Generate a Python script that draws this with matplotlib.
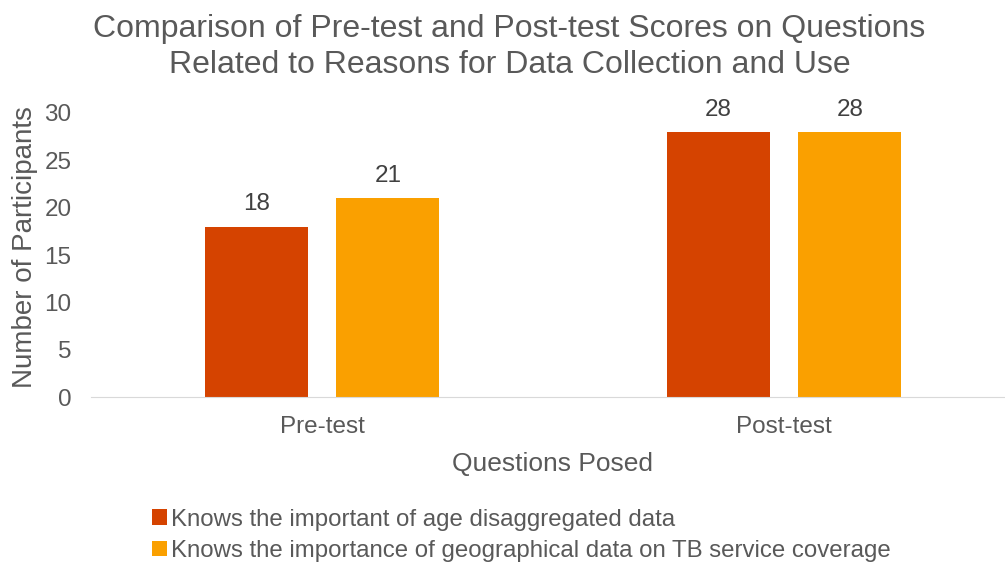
import numpy as np
import matplotlib.pyplot as plt

plt.rcParams['font.family'] = ['Liberation Sans', 'DejaVu Sans']

groups = ['Pre-test', 'Post-test']
age_data = [18, 28]
geo_data = [21, 28]
series_names = ['Knows the important of age disaggregated data',
                'Knows the importance of geographical data on TB service coverage']
colors = ['#D54300', '#FAA000']
text_col = '#595959'


def main():
    fig = plt.figure(figsize=(10.05, 5.63), dpi=100)
    ax = fig.add_axes([91/1005, 0.2948, 924/1005, 0.5045])

    x = np.arange(len(groups))
    w = 0.223
    off = 0.1425
    b1 = ax.bar(x - off, age_data, w, color=colors[0], label=series_names[0])
    b2 = ax.bar(x + off, geo_data, w, color=colors[1], label=series_names[1])
    for bars in (b1, b2):
        ax.bar_label(bars, padding=8, fontsize=17.5, color='#404040')

    ax.set_xlim(-0.5, 1.5)
    ax.set_ylim(0, 30)
    ax.set_yticks(range(0, 31, 5))
    ax.set_xticks(x)
    ax.set_xticklabels(groups)
    ax.tick_params(axis='both', length=0, labelsize=17.5, labelcolor=text_col)
    ax.tick_params(axis='x', pad=14)
    ax.tick_params(axis='y', pad=14)
    for s in ['top', 'right', 'left']:
        ax.spines[s].set_visible(False)
    ax.spines['bottom'].set_color('#D9D9D9')

    ax.set_xlabel('Questions Posed', fontsize=19, color=text_col, labelpad=10)
    ax.set_ylabel('Number of Participants', fontsize=20, color=text_col)
    ax.yaxis.set_label_coords(-53/924, 0.528)

    fig.text(0.507, 1 - 14/563, 'Comparison of Pre-test and Post-test Scores on Questions\n'
             'Related to Reasons for Data Collection and Use',
             ha='center', va='top', fontsize=23, color=text_col, linespacing=1.28)

    fig.legend(loc='lower left', bbox_to_anchor=(0.130, -0.036), frameon=False,
               fontsize=17.3, labelcolor=text_col, handlelength=0.6, handleheight=0.6,
               handletextpad=0.2, labelspacing=0.38)

    fig.savefig('out.png', dpi=100)


if __name__ == "__main__":
    main()
